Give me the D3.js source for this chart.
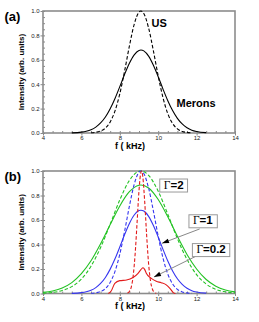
<!DOCTYPE html>
<html>
<head>
<meta charset="utf-8">
<script src="https://cdn.jsdelivr.net/npm/d3@7"></script>
<style>
body { margin: 0; background: #fff; }
</style>
</head>
<body>
<div id="chart"></div>
<script>
// curves, [f (kHz), intensity]
const usCurve = [[6.5,0.002],[6.75,0.006],[7,0.016],[7.25,0.04],[7.5,0.091],[7.75,0.181],[8,0.321],[8.25,0.508],[8.5,0.713],[8.75,0.891],[9,0.991],[9.1,1],[9.25,0.979],[9.5,0.861],[9.75,0.673],[10,0.468],[10.25,0.289],[10.5,0.159],[10.75,0.078],[11,0.034],[11.25,0.013],[11.5,0.005],[11.75,0.001]];

const meronsCurve = [[5.5,0.001],[6,0.007],[6.25,0.014],[6.5,0.026],[6.75,0.048],[7,0.082],[7.25,0.131],[7.5,0.199],[7.75,0.283],[8,0.38],[8.25,0.481],[8.5,0.572],[8.75,0.641],[9,0.677],[9.1,0.68],[9.25,0.673],[9.5,0.63],[9.75,0.555],[10,0.461],[10.25,0.36],[10.5,0.265],[10.75,0.184],[11,0.12],[11.25,0.074],[11.5,0.043],[11.75,0.023],[12,0.012],[12.5,0.003]];

const gamma2Solid = [[4,0.009],[4.5,0.021],[5,0.045],[5.5,0.089],[6,0.162],[6.5,0.267],[7,0.406],[7.5,0.563],[8,0.715],[8.5,0.831],[9,0.884],[9.1,0.886],[9.5,0.861],[10,0.767],[10.5,0.626],[11,0.467],[11.5,0.319],[12,0.2],[12.5,0.114],[13,0.06],[13.5,0.029],[14,0.013]];

const gamma2Dashed = [[4,0.003],[4.5,0.009],[5,0.024],[5.5,0.056],[6,0.118],[6.5,0.223],[7,0.375],[7.5,0.566],[8,0.764],[8.5,0.923],[9,0.998],[9.1,1],[9.5,0.965],[10,0.835],[10.5,0.647],[11,0.448],[11.5,0.278],[12,0.154],[12.5,0.077],[13,0.034],[13.5,0.014],[14,0.005]];

const gamma02Solid = [[7.4,0],[7.55,0.02],[7.74,0.083],[8,0.105],[8.35,0.11],[8.69,0.13],[8.95,0.165],[9.1,0.195],[9.21,0.21],[9.3,0.195],[9.38,0.165],[9.64,0.124],[9.9,0.1],[10.16,0.088],[10.42,0.07],[10.62,0.04],[10.8,0.005],[10.9,0]];

const gamma02Dashed = [[8.4,0.004],[8.5,0.017],[8.6,0.055],[8.7,0.148],[8.8,0.325],[8.9,0.579],[9,0.84],[9.1,0.991],[9.13,1],[9.2,0.951],[9.3,0.742],[9.4,0.471],[9.5,0.243],[9.6,0.102],[9.7,0.035],[9.8,0.01],[9.9,0.002]];

const xTicks = [4, 6, 8, 10, 12, 14];
const yTicks = [0, 0.2, 0.4, 0.6, 0.8, 1.0];
const gammaLabels = ["2", "1", "0.2"];

const width = 259;
const height = 322;
const sans = "'Liberation Sans', Arial, Helvetica, sans-serif";
const serif = "'Liberation Serif', 'Times New Roman', serif";
const green = "#22c222", blue = "#3535f0", red = "#e21a1a";

const svg = d3.select("#chart")
      .append("svg")
      .attr("width", width)
      .attr("height", height)
      .style("background", "#fff");

const x = d3.scaleLinear().domain([4, 14]).range([43, 235]);

function panel(top, bottom, tag) {
  const y = d3.scaleLinear().domain([0, 1]).range([bottom, top]);
  const g = svg.append("g");

  // minor ticks, pointing inward
  g.append("g")
      .attr("transform", `translate(0, ${bottom})`)
      .call(d3.axisBottom(x).tickValues(x.ticks(20)).tickSize(-2).tickFormat(""));
  g.append("g")
      .attr("transform", `translate(43, 0)`)
      .call(d3.axisLeft(y).tickValues(y.ticks(20)).tickSize(-2).tickFormat(""));

  // major ticks with labels
  g.append("g")
      .attr("transform", `translate(0, ${bottom})`)
      .call(d3.axisBottom(x).tickValues(xTicks).tickSize(2.5).tickPadding(0.5));
  g.append("g")
      .attr("transform", `translate(43, 0)`)
      .call(d3.axisLeft(y).tickValues(yTicks).tickSize(2.5).tickPadding(1).tickFormat(d3.format(".1f")));

  g.selectAll(".domain").remove();
  g.selectAll(".tick line").attr("stroke", "#888").attr("stroke-width", 1);
  g.selectAll(".tick text")
      .attr("font-size", 6)
      .attr("font-family", sans)
      .attr("fill", "#222");

  // frame
  g.append("rect")
      .attr("x", x(4))
      .attr("y", top)
      .attr("width", x(14) - x(4))
      .attr("height", bottom - top)
      .attr("fill", "none")
      .attr("stroke", "#8c8c8c")
      .attr("stroke-width", 1.6);

  // axis titles
  g.append("text")
      .attr("transform", `translate(23.5, ${(top + bottom) / 2}) rotate(-90)`)
      .attr("text-anchor", "middle")
      .attr("font-family", sans)
      .attr("font-weight", "bold")
      .attr("font-size", 8)
      .text("Intensity (arb. units)");
  g.append("text")
      .attr("x", 130)
      .attr("y", bottom + 15.8)
      .attr("text-anchor", "middle")
      .attr("font-family", sans)
      .attr("font-weight", "bold")
      .attr("font-size", 9)
      .text("f ( kHz)");

  g.append("text")
      .attr("x", 4.5)
      .attr("y", top + 10)
      .attr("font-family", sans)
      .attr("font-weight", "bold")
      .attr("font-size", 13)
      .text(tag);

  return { g, y };
}

function curve(p, series, color, dashed) {
  const line = d3.line()
        .x(d => x(d[0]))
        .y(d => p.y(d[1]))
        .curve(d3.curveMonotoneX);
  p.g.append("path")
      .datum(series)
      .attr("d", line)
      .attr("fill", "none")
      .attr("stroke", color)
      .attr("stroke-width", 1.1)
      .attr("stroke-dasharray", dashed ? "3.5,2" : null);
}

// (a)
const pa = panel(11, 133, "(a)");
curve(pa, meronsCurve, "#000", false);
curve(pa, usCurve, "#000", true);

pa.g.append("text")
    .attr("x", 151.5).attr("y", 26.7)
    .attr("font-family", sans).attr("font-weight", "bold").attr("font-size", 11)
    .text("US");
pa.g.append("text")
    .attr("x", 176.5).attr("y", 106.5)
    .attr("font-family", sans).attr("font-weight", "bold").attr("font-size", 11)
    .text("Merons");

// (b)
const pb = panel(171, 293.5, "(b)");
curve(pb, gamma2Solid, green, false);
curve(pb, gamma2Dashed, green, true);
curve(pb, meronsCurve, blue, false);
curve(pb, usCurve, blue, true);
curve(pb, gamma02Solid, red, false);
curve(pb, gamma02Dashed, red, true);

// boxed labels with arrows
const labelAt = [[10.29, 0.857], [11.81, 0.565], [11.99, 0.33]];
const arrowFrom = [null, [12.16, 0.527], [11.99, 0.306]];
const arrowTo = [null, [10.2, 0.41], [9.78, 0.135]];

gammaLabels.forEach((lab, i) => {
  if (arrowFrom[i]) {
    const x0 = x(arrowFrom[i][0]), y0 = pb.y(arrowFrom[i][1]);
    const x1 = x(arrowTo[i][0]), y1 = pb.y(arrowTo[i][1]);
    const a = Math.atan2(y1 - y0, x1 - x0);
    pb.g.append("line")
        .attr("x1", x0).attr("y1", y0).attr("x2", x1).attr("y2", y1)
        .attr("stroke", "#888").attr("stroke-width", 1);
    const len = 7, half = 2.3;
    const bx = x1 - len * Math.cos(a), by = y1 - len * Math.sin(a);
    pb.g.append("polygon")
        .attr("points", [
          [x1, y1],
          [bx + half * Math.sin(a), by - half * Math.cos(a)],
          [bx - half * Math.sin(a), by + half * Math.cos(a)]
        ].map(p => p.join(",")).join(" "))
        .attr("fill", "#000");
  }

  const t = pb.g.append("text")
      .attr("x", x(labelAt[i][0]))
      .attr("y", pb.y(labelAt[i][1]))
      .attr("font-size", 11.5);
  t.append("tspan").attr("font-family", serif).text("Γ");
  t.append("tspan").attr("font-family", sans).attr("font-weight", "bold").text("=" + lab);

  const bb = t.node().getBBox();
  pb.g.insert("rect", () => t.node())
      .attr("x", bb.x - 4)
      .attr("y", bb.y + 0.5)
      .attr("width", bb.width + 8)
      .attr("height", bb.height + 1)
      .attr("fill", "#fff")
      .attr("stroke", "#999")
      .attr("stroke-width", 1);
});
</script>
</body>
</html>
